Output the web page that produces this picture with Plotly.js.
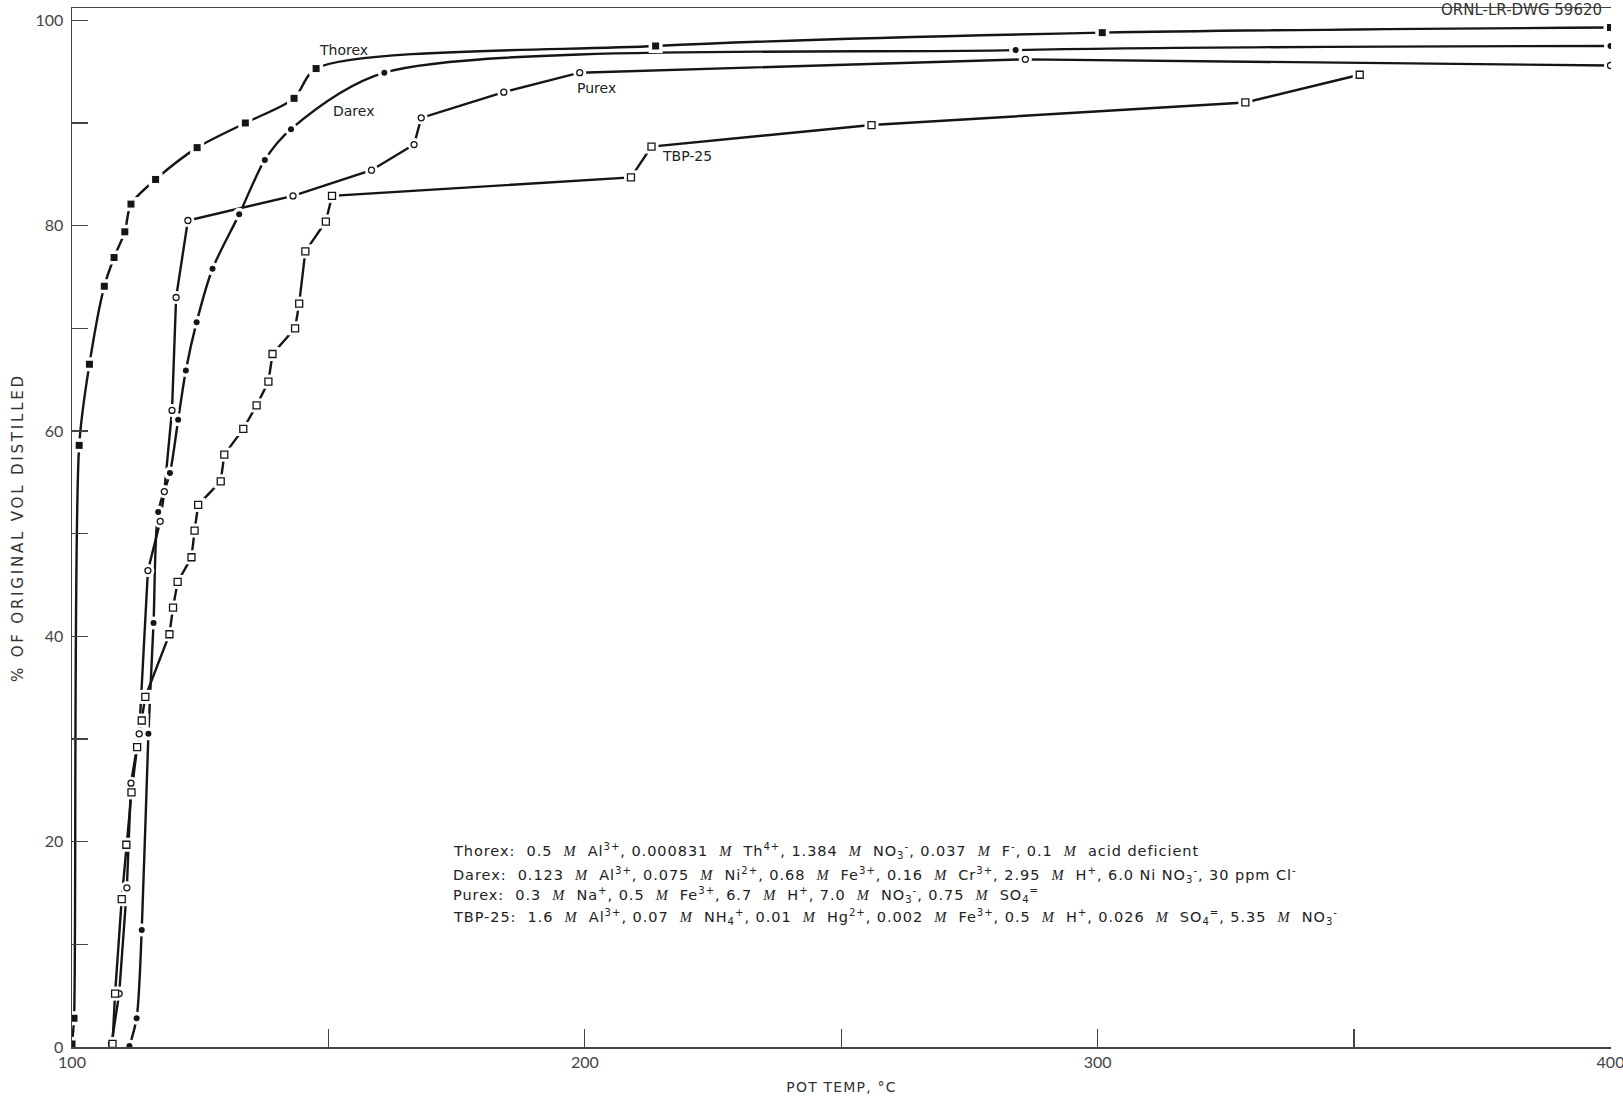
<!DOCTYPE html>
<html>
<head>
<meta charset="utf-8">
<script src="https://cdn.plot.ly/plotly-3.0.1.min.js"></script>
<style>html,body{margin:0;padding:0;background:#fff;}</style>
</head>
<body>
<div id="chart" style="width:1623px;height:1099px;"></div>
<script>
// Pot temperature (°C) vs. % of original volume distilled, one pair of arrays per solution
const thorexTemp = [100.0, 100.4, 101.4, 103.4, 106.3, 108.2, 110.3, 111.5, 116.3, 124.4, 133.8, 143.3, 147.6, 213.8, 300.9, 400.0];
const thorexPct  = [0.3, 2.8, 58.6, 66.5, 74.1, 76.9, 79.4, 82.1, 84.5, 87.6, 90.0, 92.4, 95.3, 97.5, 98.8, 99.3];

const darexTemp = [111.2, 112.6, 113.6, 114.9, 115.9, 116.8, 119.1, 120.7, 122.2, 124.3, 127.4, 132.6, 137.6, 142.7, 160.9, 284.0, 400.0];
const darexPct  = [0.1, 2.8, 11.4, 30.5, 41.3, 52.1, 55.9, 61.1, 65.9, 70.6, 75.8, 81.1, 86.4, 89.4, 94.9, 97.1, 97.5];

const purexTemp = [107.7, 109.2, 110.7, 111.5, 113.1, 114.8, 117.2, 118.0, 119.5, 120.3, 122.6, 143.1, 158.4, 166.7, 168.1, 184.2, 199.0, 285.9, 400.0];
const purexPct  = [0.3, 5.2, 15.5, 25.7, 30.5, 46.4, 51.2, 54.1, 62.0, 73.0, 80.5, 82.9, 85.4, 87.9, 90.5, 93.0, 94.9, 96.2, 95.6];

const tbpTemp = [107.9, 108.4, 109.7, 110.6, 111.6, 112.7, 113.6, 114.3, 119.0, 119.7, 120.6, 123.3, 123.9, 124.6, 129.0, 129.7, 133.4, 136.0, 138.3, 139.1, 143.5, 144.3, 145.5, 149.5, 150.7, 209.0, 213.0, 255.9, 328.8, 351.1];
const tbpPct  = [0.3, 5.2, 14.4, 19.7, 24.8, 29.2, 31.8, 34.1, 40.2, 42.8, 45.3, 47.7, 50.3, 52.8, 55.1, 57.7, 60.2, 62.5, 64.8, 67.5, 70.0, 72.4, 77.5, 80.4, 82.9, 84.7, 87.7, 89.8, 92.0, 94.7];

// Axis ticks
const xTickVals = [100, 150, 200, 250, 300, 350, 400];
const xTickText = ['100', '', '200', '', '300', '', '400'];
const yTickVals = [0, 10, 20, 30, 40, 50, 60, 70, 80, 90, 100];
const yTickText = ['0', '', '20', '', '40', '', '60', '', '80', '', '100'];

// Curve labels
const seriesNames = ['Thorex', 'Darex', 'Purex', 'TBP-25'];

// Solution compositions
const M = '<span style="font-family:Liberation Serif;font-style:italic">M</span>';
const sp = '\u00A0\u00A0';
const compositionLines = [
  'Thorex:' + sp + '0.5' + sp + M + sp + 'Al<sup>3+</sup>, 0.000831' + sp + M + sp + 'Th<sup>4+</sup>, 1.384' + sp + M + sp + 'NO<sub>3</sub><sup>-</sup>, 0.037' + sp + M + sp + 'F<sup>-</sup>, 0.1' + sp + M + sp + 'acid deficient',
  'Darex:' + sp + '0.123' + sp + M + sp + 'Al<sup>3+</sup>, 0.075' + sp + M + sp + 'Ni<sup>2+</sup>, 0.68' + sp + M + sp + 'Fe<sup>3+</sup>, 0.16' + sp + M + sp + 'Cr<sup>3+</sup>, 2.95' + sp + M + sp + 'H<sup>+</sup>, 6.0 Ni NO<sub>3</sub><sup>-</sup>, 30 ppm Cl<sup>-</sup>',
  'Purex:' + sp + '0.3' + sp + M + sp + 'Na<sup>+</sup>, 0.5' + sp + M + sp + 'Fe<sup>3+</sup>, 6.7' + sp + M + sp + 'H<sup>+</sup>, 7.0' + sp + M + sp + 'NO<sub>3</sub><sup>-</sup>, 0.75' + sp + M + sp + 'SO<sub>4</sub><sup>=</sup>',
  'TBP-25:' + sp + '1.6' + sp + M + sp + 'Al<sup>3+</sup>, 0.07' + sp + M + sp + 'NH<sub>4</sub><sup>+</sup>, 0.01' + sp + M + sp + 'Hg<sup>2+</sup>, 0.002' + sp + M + sp + 'Fe<sup>3+</sup>, 0.5' + sp + M + sp + 'H<sup>+</sup>, 0.026' + sp + M + sp + 'SO<sub>4</sub><sup>=</sup>, 5.35' + sp + M + sp + 'NO<sub>3</sub><sup>-</sup>'
];

const INK = '#151515';
const TICKFONT = 'Lato, "Noto Sans", sans-serif';
const TEXTFONT = '"DejaVu Sans", "Noto Sans", sans-serif';

const series = [
  {x: thorexTemp, y: thorexPct, shape: 'spline', sym: 'square', size: 7, fill: INK, lw: 0},
  {x: darexTemp,  y: darexPct,  shape: 'spline', sym: 'circle', size: 6, fill: INK, lw: 0},
  {x: purexTemp,  y: purexPct,  shape: 'linear', sym: 'circle', size: 6, fill: '#ffffff', lw: 1.3},
  {x: tbpTemp,    y: tbpPct,    shape: 'linear', sym: 'square', size: 7, fill: '#ffffff', lw: 1.3}
];

const traces = [];
// connecting curves
series.forEach((s, i) => traces.push({
  x: s.x, y: s.y, type: 'scatter', mode: 'lines', name: seriesNames[i],
  line: {color: INK, width: 2.4, shape: s.shape, smoothing: 0.8},
  hoverinfo: 'skip', showlegend: false
}));
// white halos leave a small break in the curve around each point
series.forEach((s, i) => traces.push({
  x: s.x, y: s.y, type: 'scatter', mode: 'markers', name: seriesNames[i] + ' gap',
  marker: {symbol: s.sym, size: s.size + 7, color: '#ffffff', line: {width: 0}},
  hoverinfo: 'skip', showlegend: false
}));
// point symbols
series.forEach((s, i) => traces.push({
  x: s.x, y: s.y, type: 'scatter', mode: 'markers', name: seriesNames[i],
  marker: {symbol: s.sym, size: s.size, color: s.fill, line: {color: INK, width: s.lw}},
  showlegend: false
}));

const annotations = [
  {x: 147.8, y: 97.1, text: seriesNames[0]},
  {x: 150.5, y: 91.2, text: seriesNames[1]},
  {x: 198.1, y: 93.4, text: seriesNames[2]},
  {x: 214.6, y: 86.8, text: seriesNames[3]}
].map(a => Object.assign(a, {
  xref: 'x', yref: 'y', xanchor: 'left', yanchor: 'middle', showarrow: false,
  font: {family: TEXTFONT, size: 14, color: '#222'}
}));

const lineY = [19.1, 16.8, 14.8, 12.7];
compositionLines.forEach((t, i) => annotations.push({
  x: 173.9, y: lineY[i], xref: 'x', yref: 'y', xanchor: 'left', yanchor: 'middle', align: 'left',
  text: t, showarrow: false, font: {family: TEXTFONT, size: 14.5, color: '#222'}
}));

annotations.push({
  x: 0.9955, y: 1.0087, xref: 'paper', yref: 'paper', xanchor: 'right', yanchor: 'top',
  text: 'ORNL-LR-DWG 59620', showarrow: false,
  font: {family: TEXTFONT, size: 15, color: '#333'}
});

const layout = {
  width: 1623, height: 1099,
  margin: {l: 72, r: 12, t: 8, b: 52},
  paper_bgcolor: '#ffffff', plot_bgcolor: '#ffffff',
  font: {family: TICKFONT, color: '#333'},
  xaxis: {
    range: [100, 400.1], showgrid: false, zeroline: false,
    showline: true, mirror: true, linecolor: '#444', linewidth: 1.5,
    ticks: 'inside', ticklen: 18, tickwidth: 1.2, tickcolor: '#444',
    tickmode: 'array', tickvals: xTickVals, ticktext: xTickText,
    ticklabeloverflow: 'allow',
    tickfont: {family: TICKFONT, size: 16, color: '#444'},
    title: {text: 'POT TEMP, °C', standoff: 12, font: {family: TEXTFONT, size: 14, color: '#333'}}
  },
  yaxis: {
    range: [0, 101.2], showgrid: false, zeroline: false,
    showline: true, mirror: false, linecolor: '#444', linewidth: 1.5,
    ticks: 'inside', ticklen: 16, tickwidth: 1.2, tickcolor: '#444',
    tickmode: 'array', tickvals: yTickVals, ticktext: yTickText,
    ticklabelstandoff: 4,
    tickfont: {family: TICKFONT, size: 16, color: '#444'},
    title: {text: '% OF ORIGINAL VOL DISTILLED', standoff: 8, font: {family: TEXTFONT, size: 15, color: '#333'}}
  },
  annotations: annotations,
  showlegend: false
};

Plotly.newPlot('chart', traces, layout, {displayModeBar: false, staticPlot: true}).then(gd => {
  // widen the tracking of the composition block and the axis titles
  const notes = gd.querySelectorAll('.annotation-text');
  notes.forEach((el, i) => { if (i >= 4 && i < 8) el.style.letterSpacing = '0.95px'; });
  const yt = gd.querySelector('.g-ytitle text');
  if (yt) yt.style.letterSpacing = '2.8px';
  const xt = gd.querySelector('.g-xtitle text');
  if (xt) xt.style.letterSpacing = '1.2px';
});
</script>
</body>
</html>
